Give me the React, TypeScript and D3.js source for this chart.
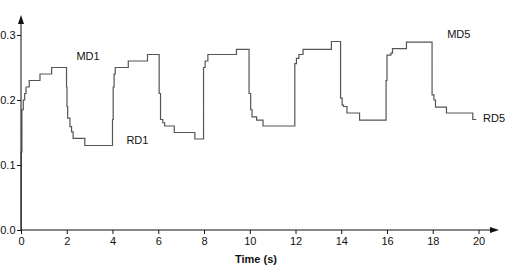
import React, { useEffect, useRef } from 'react';
import * as d3 from 'd3';

// step series: time (s) where each level starts, and the level
const times = [
  0, 0.01, 0.04, 0.1, 0.16, 0.22, 0.36, 0.83, 1.34,
  1.99, 2.01, 2.04, 2.14, 2.21, 2.28, 2.79,
  4.0, 4.03, 4.07, 4.12, 4.69, 5.53,
  6.04, 6.1, 6.2, 6.28, 6.7, 7.6,
  7.98, 8.05, 8.17, 9.42,
  9.97, 10.04, 10.1, 10.3, 10.58,
  11.97, 12.04, 12.15, 12.33, 13.57,
  13.97, 14.04, 14.1, 14.25, 14.8,
  15.96, 16.0, 16.17, 16.24, 16.85,
  17.97, 18.05, 18.12, 18.6, 19.75, 19.9,
];
const values = [
  0, 0.12, 0.185, 0.2, 0.21, 0.22, 0.23, 0.24, 0.25,
  0.22, 0.19, 0.172, 0.159, 0.151, 0.141, 0.13,
  0.17, 0.22, 0.24, 0.25, 0.26, 0.27,
  0.21, 0.17, 0.165, 0.16, 0.15, 0.14,
  0.25, 0.26, 0.27, 0.278,
  0.21, 0.185, 0.174, 0.169, 0.16,
  0.256, 0.264, 0.27, 0.278, 0.29,
  0.203, 0.192, 0.19, 0.18, 0.169,
  0.23, 0.269, 0.272, 0.279, 0.289,
  0.208, 0.2, 0.189, 0.18, 0.17, 0.17,
];

const xTicks = [0, 2, 4, 6, 8, 10, 12, 14, 16, 18, 20];
const yTicks = [0, 0.1, 0.2, 0.3];

const labels = [
  { text: 'MD1', t: 2.93, v: 0.2615 },
  { text: 'RD1', t: 5.09, v: 0.132 },
  { text: 'MD5', t: 19.14, v: 0.295 },
  { text: 'RD5', t: 20.68, v: 0.166 },
];

const W = 507;
const H = 265;
const FONT = 'Liberation Sans, Arial, sans-serif';

export default function App() {
  const ref = useRef<SVGSVGElement | null>(null);

  useEffect(() => {
    const svg = d3.select(ref.current);
    svg.selectAll('*').remove();

    const x = d3.scaleLinear().domain([0, 20]).range([21, 478.5]);
    const y = d3.scaleLinear().domain([0, 0.3]).range([230, 35]);

    const data = times.map((t, i) => [t, values[i]] as [number, number]);

    const line = d3.line<[number, number]>()
      .x(d => x(d[0]))
      .y(d => y(d[1]))
      .curve(d3.curveStepAfter);

    svg.append('path')
      .datum(data)
      .attr('d', line)
      .attr('fill', 'none')
      .attr('stroke', '#555')
      .attr('stroke-width', 1.2);

    const xAxis = svg.append('g')
      .attr('transform', `translate(0,${y(0)})`)
      .call(d3.axisBottom(x).tickValues(xTicks).tickSize(4).tickPadding(3).tickFormat(d3.format('d')));
    xAxis.select('.domain').remove();

    const yAxis = svg.append('g')
      .attr('transform', `translate(${x(0)},0)`)
      .call(d3.axisLeft(y).tickValues(yTicks).tickSize(4).tickPadding(1.5).tickFormat(d3.format('.1f')));
    yAxis.select('.domain').remove();

    svg.selectAll('.tick text')
      .attr('font-family', FONT)
      .attr('font-size', 11)
      .attr('fill', '#111');
    svg.selectAll('.tick line').attr('stroke', '#111');

    // axis lines with arrow heads
    const x0 = x(0);
    const y0 = y(0);
    svg.append('line')
      .attr('x1', x0).attr('x2', x0).attr('y1', y0).attr('y2', 22)
      .attr('stroke', '#111').attr('stroke-width', 1);
    svg.append('path')
      .attr('d', `M${x0},15 L${x0 - 3},24 L${x0 + 3},24 Z`)
      .attr('fill', '#111');
    svg.append('line')
      .attr('x1', x0).attr('x2', 492).attr('y1', y0).attr('y2', y0)
      .attr('stroke', '#111').attr('stroke-width', 1);
    svg.append('path')
      .attr('d', `M499,${y0} L490,${y0 - 3} L490,${y0 + 3} Z`)
      .attr('fill', '#111');

    svg.append('text')
      .attr('x', 256)
      .attr('y', 263)
      .attr('text-anchor', 'middle')
      .attr('font-family', FONT)
      .attr('font-size', 11)
      .attr('font-weight', 'bold')
      .attr('fill', '#111')
      .text('Time (s)');

    svg.append('g')
      .selectAll('text')
      .data(labels)
      .join('text')
      .attr('x', d => x(d.t))
      .attr('y', d => y(d.v))
      .attr('text-anchor', 'middle')
      .attr('font-family', FONT)
      .attr('font-size', 11)
      .attr('fill', '#111')
      .text(d => d.text);
  }, []);

  return (
    <svg
      ref={ref}
      width={W}
      height={H}
      style={{ position: 'absolute', left: 0, top: 0, background: '#fff' }}
    />
  );
}
